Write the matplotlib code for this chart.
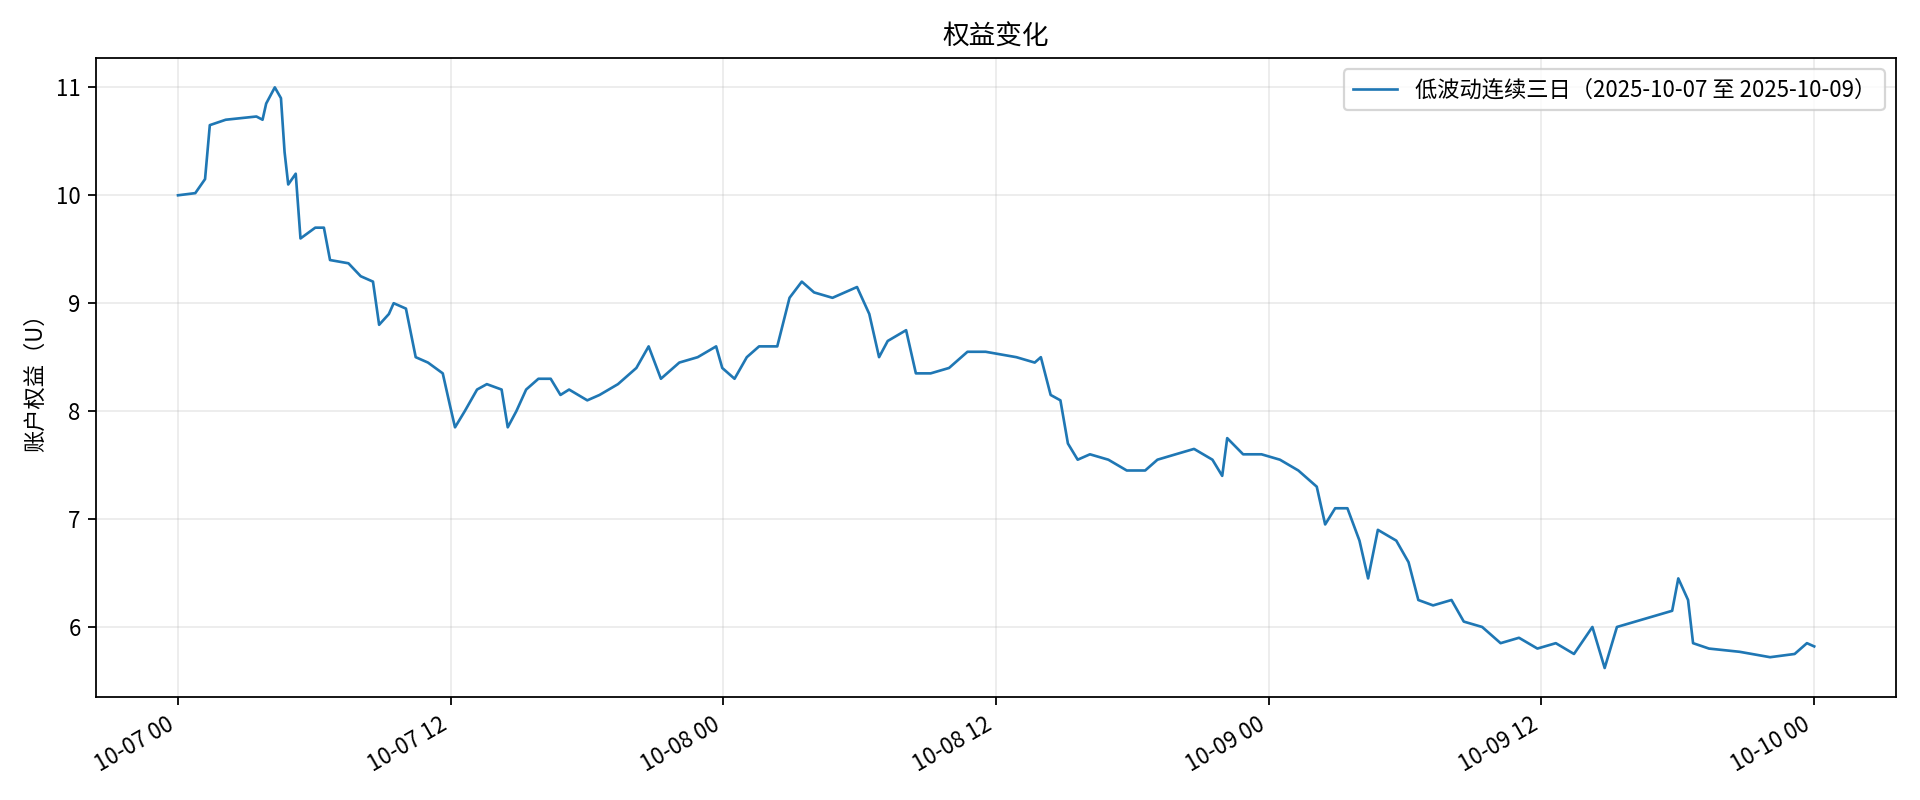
import numpy as np
import pandas as pd
import matplotlib
matplotlib.use('Agg')
import matplotlib.pyplot as plt
import matplotlib.dates as mdates

plt.rcParams['font.family'] = ['Noto Sans CJK SC', 'DejaVu Sans']
plt.rcParams['axes.unicode_minus'] = False

# hours since 2025-10-07 00:00
hours = [0, 0.76, 1.19, 1.40, 2.10, 3.45, 3.72, 3.88, 4.26, 4.53, 4.69, 4.85, 5.18, 5.39,
         6.04, 6.42, 6.69, 7.50, 8.04, 8.58, 8.85, 9.28, 9.49, 10.03, 10.46, 11.0, 11.65,
         11.97, 12.19, 12.62, 13.16, 13.59, 14.24, 14.51, 14.89, 15.32, 15.86, 16.40, 16.83,
         17.21, 18.01, 18.55, 19.36, 20.17, 20.71, 21.25, 22.06, 22.87, 23.68, 23.95, 24.49,
         25.03, 25.57, 26.37, 26.91, 27.45, 27.99, 28.80, 29.88, 30.42, 30.85, 31.23, 32.04,
         32.47, 33.12, 33.93, 34.74, 35.54, 36.89, 37.70, 37.97, 38.40, 38.83, 39.16, 39.59,
         40.13, 40.94, 41.75, 42.56, 43.10, 43.90, 44.71, 45.52, 45.95, 46.17, 46.87, 47.68,
         48.49, 49.30, 50.11, 50.48, 50.92, 51.46, 51.99, 52.37, 52.80, 53.61, 54.15, 54.58,
         55.23, 56.04, 56.58, 57.39, 58.20, 59.01, 59.82, 60.63, 61.43, 62.24, 62.78, 63.32,
         64.13, 64.94, 65.75, 66.02, 66.45, 66.67, 67.37, 68.72, 70.06, 71.14, 71.68, 72.0]
equity = [10.0, 10.02, 10.15, 10.65, 10.7, 10.73, 10.7, 10.85, 11.0, 10.9, 10.4, 10.1, 10.2, 9.6,
          9.7, 9.7, 9.4, 9.37, 9.25, 9.2, 8.8, 8.9, 9.0, 8.95, 8.5, 8.45, 8.35,
          8.05, 7.85, 8.0, 8.2, 8.25, 8.2, 7.85, 8.0, 8.2, 8.3, 8.3, 8.15,
          8.2, 8.1, 8.15, 8.25, 8.4, 8.6, 8.3, 8.45, 8.5, 8.6, 8.4, 8.3,
          8.5, 8.6, 8.6, 9.05, 9.2, 9.1, 9.05, 9.15, 8.9, 8.5, 8.65, 8.75,
          8.35, 8.35, 8.4, 8.55, 8.55, 8.5, 8.45, 8.5, 8.15, 8.1, 7.7, 7.55,
          7.6, 7.55, 7.45, 7.45, 7.55, 7.6, 7.65, 7.55, 7.4, 7.75, 7.6, 7.6,
          7.55, 7.45, 7.3, 6.95, 7.1, 7.1, 6.8, 6.45, 6.9, 6.8, 6.6, 6.25,
          6.2, 6.25, 6.05, 6.0, 5.85, 5.9, 5.8, 5.85, 5.75, 6.0, 5.62, 6.0,
          6.05, 6.1, 6.15, 6.45, 6.25, 5.85, 5.8, 5.77, 5.72, 5.75, 5.85, 5.82]

times = pd.Timestamp('2025-10-07') + pd.to_timedelta(hours, unit='h')

fig, ax = plt.subplots(figsize=(12, 5), dpi=160)
ax.plot(times, equity, color='#1f77b4', lw=1.2,
        label='低波动连续三日（2025-10-07 至 2025-10-09）')
ax.set_title('权益变化')
ax.set_ylabel('账户权益（U）')
ax.grid(alpha=0.25)
ax.legend(loc='upper right')
ax.xaxis.set_major_locator(mdates.HourLocator(byhour=[0, 12]))
ax.xaxis.set_major_formatter(mdates.DateFormatter('%m-%d %H'))
fig.autofmt_xdate()
fig.tight_layout()
fig.savefig('out.png')
